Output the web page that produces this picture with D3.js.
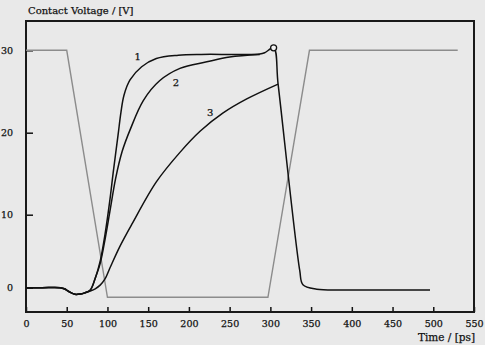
<!DOCTYPE html>
<html><head><meta charset="utf-8">
<script src="https://cdn.jsdelivr.net/npm/d3@7"></script>
<style>html,body{margin:0;padding:0;background:#e9e9e9;}svg{display:block;}</style>
</head><body>
<script>
const timeTicks = [0,50,100,150,200,250,300,350,400,450,500,550];
const voltTicks = [0,10,20,30];
const pulseT = [0,50,100,297,348,530];
const pulseV = [30,30,-1.3,-1.3,30,30];
const curve1T = [0,20,42,47,53,60,67,72,79,85,91,97,103,107,113,116.6,120.3,127.7,142,160,187,215,260,287,293,304,309.5,336,340,357,398,496];
const curve1V = [0,0,0,-0.15,-0.55,-0.9,-0.85,-0.7,-0.3,1.3,3.6,7.3,11.8,15.1,19.7,22.5,24.55,26.4,28.0,29.0,29.4,29.5,29.5,29.55,29.7,30.3,25.9,2.4,0.4,-0.2,-0.3,-0.3];
const curve2T = [0,20,42,47,53,60,67,72,79,85,91,97,103,110,118,128,144,164,189,222,250,287];
const curve2V = [0,0,0,-0.15,-0.55,-0.9,-0.85,-0.7,-0.3,1.3,3.3,6.6,10.4,14.4,17.7,20.4,23.9,26.3,27.8,28.6,29.2,29.5];
const curve3T = [0,20,42,47,53,60,67,72,79,85,91,97,103,115,130,160,189,214,242,271,309.5];
const curve3V = [0,0,0,-0.15,-0.55,-0.9,-0.85,-0.7,-0.45,-0.15,0.35,1.2,2.7,5.6,8.7,14.0,17.6,20.2,22.4,24.1,25.9];
const peak = {t:304, v:30.3};
const curveLabels = [{t:137,v:29.2,s:"1"},{t:184,v:26.1,s:"2"},{t:226,v:22.5,s:"3"}];

const W=485,H=345;
const svg=d3.select("body").append("svg").attr("width",W).attr("height",H);
svg.append("rect").attr("width",W).attr("height",H).attr("fill","#e9e9e9");
const x=d3.scaleLinear().domain([0,550]).range([26,474]);
const y=d3.scaleLinear().domain([-3.3,0,10,20,30,33.6]).range([312,287.7,214.7,132.7,50.3,21]);
const font="'DejaVu Serif', serif";
const txt=s=>s.attr("font-family",font).attr("font-size","9.5px").attr("fill","#111").attr("stroke","#111").attr("stroke-width",0.25);

const xa=svg.append("g").attr("transform","translate(0,312)")
  .call(d3.axisBottom(x).tickValues(timeTicks).tickSizeInner(-5).tickSizeOuter(0).tickPadding(8));
const ya=svg.append("g").attr("transform","translate(26,0)")
  .call(d3.axisLeft(y).tickValues(voltTicks).tickSizeInner(-7).tickSizeOuter(0).tickPadding(13));
[xa,ya].forEach(a=>{
  a.select(".domain").remove();
  a.selectAll(".tick line").attr("stroke","#111").attr("stroke-width",1.5);
  txt(a.selectAll("text"));
});

svg.append("rect").attr("x",x(0)).attr("y",21).attr("width",x(550)-x(0)).attr("height",312-21)
  .attr("fill","none").attr("stroke","#1a1a1a").attr("stroke-width",2);

const lineLin=d3.line().x(d=>x(d[0])).y(d=>y(d[1]));
const lineSm=d3.line().x(d=>x(d[0])).y(d=>y(d[1])).curve(d3.curveCatmullRom.alpha(0.5));
svg.append("path").attr("d",lineLin(d3.zip(pulseT,pulseV))).attr("fill","none").attr("stroke","#8c8c8c").attr("stroke-width",1.4);
[[curve3T,curve3V],[curve2T,curve2V],[curve1T,curve1V]].forEach(([t,v])=>{
  svg.append("path").attr("d",lineSm(d3.zip(t,v))).attr("fill","none").attr("stroke","#111").attr("stroke-width",1.5);
});
svg.append("circle").attr("cx",x(peak.t)).attr("cy",y(peak.v)).attr("r",3)
  .attr("fill","#f4f4f4").attr("stroke","#111").attr("stroke-width",1.3);
curveLabels.forEach(l=>{
  txt(svg.append("text").attr("x",x(l.t)).attr("y",y(l.v)).attr("text-anchor","middle").attr("dy","0.35em")).attr("font-size","10px").text(l.s);
});
txt(svg.append("text").attr("x",28).attr("y",14)).attr("font-size","10px").text("Contact Voltage / [V]");
txt(svg.append("text").attr("x",475).attr("y",341).attr("text-anchor","end")).attr("font-size","10.5px").text("Time / [ps]");
</script>
</body></html>
